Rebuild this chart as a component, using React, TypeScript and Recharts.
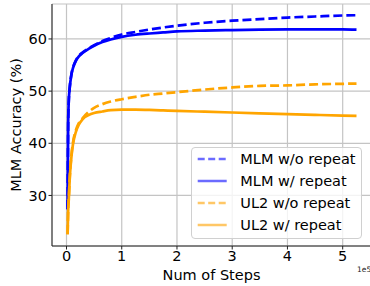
import React from "react";
import { LineChart, Line, XAxis, YAxis, CartesianGrid } from "recharts";

const steps = [2000, 3000, 4000, 6000, 9000, 12000, 17000, 22000, 29000, 40000, 50000, 65000, 80000, 100000, 125000, 150000, 175000, 200000, 250000, 300000, 350000, 400000, 450000, 500000, 525000];

const mlmNoRepeat = [27.4, 43.6, 47.9, 50.9, 53.3, 54.6, 55.9, 56.7, 57.4, 58.2, 58.8, 59.6, 60.2, 60.85, 61.35, 61.8, 62.2, 62.55, 63.1, 63.5, 63.8, 64.1, 64.3, 64.5, 64.55];
const mlmRepeat = [27.3, 43.5, 47.8, 50.8, 53.2, 54.5, 55.8, 56.6, 57.3, 58.1, 58.7, 59.4, 59.9, 60.4, 60.8, 61.05, 61.25, 61.45, 61.6, 61.7, 61.8, 61.85, 61.85, 61.85, 61.8];
const ul2NoRepeat = [22.6, 27.2, 29.2, 33.7, 37.8, 40.3, 42.5, 43.8, 44.8, 46.0, 46.8, 47.5, 48.0, 48.45, 48.9, 49.3, 49.55, 49.8, 50.3, 50.7, 51.0, 51.1, 51.3, 51.4, 51.45];
const ul2Repeat = [22.5, 27, 29, 33.5, 37.5, 40, 42.2, 43.5, 44.6, 45.4, 45.8, 46.1, 46.35, 46.45, 46.45, 46.4, 46.3, 46.2, 46.05, 45.9, 45.75, 45.6, 45.45, 45.3, 45.25];

const xTicks = [0, 100000, 200000, 300000, 400000, 500000];
const yTicks = [30, 40, 50, 60];

const seriesNames = ["MLM w/o repeat", "MLM w/ repeat", "UL2 w/o repeat", "UL2 w/ repeat"];
const seriesKeys = ["mlmNo", "mlmRep", "ul2No", "ul2Rep"];
const seriesColors = ["#0000ff", "#0000ff", "#ffa500", "#ffa500"];
const legendColors = ["#6b6bff", "#6b6bff", "#ffc766", "#ffc766"];
const seriesDashed = [true, false, true, false];

const data = steps.map((s, i) => ({
  step: s,
  mlmNo: mlmNoRepeat[i],
  mlmRep: mlmRepeat[i],
  ul2No: ul2NoRepeat[i],
  ul2Rep: ul2Repeat[i],
}));

const FONT = "DejaVu Sans";

export default function App() {
  return (
    <div style={{ position: "absolute", left: 0, top: 0, width: 370, height: 286, overflow: "hidden", background: "#fff", fontFamily: FONT }}>
      <LineChart width={380} height={286} data={data} margin={{ top: 4, right: 9, left: 0, bottom: 0 }}>
        <CartesianGrid stroke="#c4c4c4" strokeWidth={1.2} />
        <XAxis
          xAxisId={0}
          type="number"
          dataKey="step"
          domain={[-26250, 551250]}
          allowDataOverflow
          ticks={xTicks}
          tickFormatter={(v: number) => String(v / 100000)}
          height={40}
          tickSize={3.5}
          tickMargin={1.5}
          stroke="#222"
          tick={{ fill: "#000", fontSize: 14.5, fontFamily: FONT }}
          label={{
            content: (p: any) => {
              const vb = p.viewBox || { x: 52, y: 246, width: 319 };
              return (
                <g>
                  <text x={vb.x + vb.width / 2} y={280} textAnchor="middle" fontSize={14.5} fontFamily={FONT} fill="#000">
                    Num of Steps
                  </text>
                  <text x={357} y={272} fontSize={7.5} fontFamily={FONT} fill="#222">
                    1e5
                  </text>
                </g>
              );
            },
          }}
        />
        <XAxis xAxisId="top" orientation="top" type="number" dataKey="step" domain={[-26250, 551250]} allowDataOverflow height={0} tick={false} tickLine={false} stroke="#222" />
        <YAxis
          type="number"
          domain={[20.31, 66.7]}
          allowDataOverflow
          ticks={yTicks}
          width={52}
          tickSize={3.5}
          tickMargin={1.5}
          stroke="#222"
          tick={{ fill: "#000", fontSize: 14.5, fontFamily: FONT }}
          label={{
            content: () => (
              <text x={20.5} y={125} transform="rotate(-90 20.5 125)" textAnchor="middle" fontSize={14.5} fontFamily={FONT} fill="#000">
                MLM Accuracy (%)
              </text>
            ),
          }}
        />
        {seriesKeys.map((k, i) => (
          <Line
            key={k}
            xAxisId={0}
            dataKey={k}
            name={seriesNames[i]}
            type="monotone"
            stroke={seriesColors[i]}
            strokeWidth={2.7}
            strokeDasharray={seriesDashed[i] ? "9 4" : undefined}
            dot={false}
            activeDot={false}
            isAnimationActive={false}
          />
        ))}
      </LineChart>
      <div
        style={{
          position: "absolute",
          left: 191,
          top: 147,
          width: 171,
          height: 92,
          boxSizing: "border-box",
          border: "1px solid #d0d0d0",
          borderRadius: 4,
          background: "rgba(255,255,255,0.8)",
        }}
      >
        {seriesNames.map((n, i) => (
          <div key={n} style={{ position: "absolute", left: 0, top: 11.7 - 8 + i * 22.1 - 1, height: 16, width: 171 }}>
            <svg width={40} height={16} style={{ position: "absolute", left: 0, top: 0 }}>
              <line x1={5.7} x2={34.7} y1={8} y2={8} stroke={legendColors[i]} strokeWidth={2.5} strokeDasharray={seriesDashed[i] ? "7 3.5" : undefined} />
            </svg>
            <span style={{ position: "absolute", left: 48.3, top: -1, fontSize: 14.5, fontFamily: FONT, lineHeight: "18px", color: "#000", whiteSpace: "nowrap" }}>
              {n}
            </span>
          </div>
        ))}
      </div>
    </div>
  );
}
